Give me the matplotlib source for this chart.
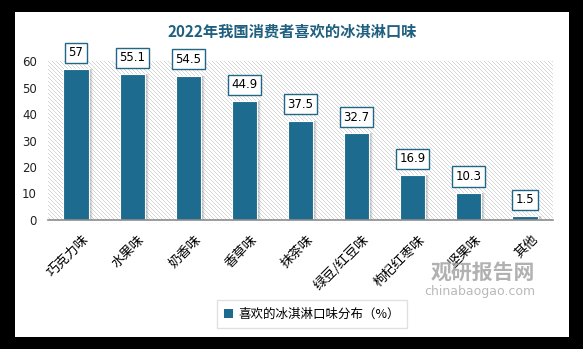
import numpy as np
import matplotlib as ml
ml.use("Agg")
import matplotlib.pyplot as plt
import matplotlib.transforms as mtrans
from matplotlib.patches import Rectangle, Patch
from matplotlib.colors import ListedColormap

# data
flavors = ["巧克力味", "水果味", "奶香味", "香草味", "抹茶味", "绿豆/红豆味", "枸杞红枣味", "坚果味", "其他"]
shares = [57, 55.1, 54.5, 44.9, 37.5, 32.7, 16.9, 10.3, 1.5]
value_labels = ["57", "55.1", "54.5", "44.9", "37.5", "32.7", "16.9", "10.3", "1.5"]
yticks = [0, 10, 20, 30, 40, 50, 60]

title = "2022年我国消费者喜欢的冰淇淋口味"
series_name = "喜欢的冰淇淋口味分布（%）"

bar_color = "#1d6b8f"
cjk = ["Noto Sans CJK SC", "DejaVu Sans"]

fig = plt.figure(figsize=(5.83, 3.49), dpi=100, facecolor="black")

# white card on black border
card = Rectangle((15/583, 12/349), 554/583, 325/349, transform=fig.transFigure,
                 facecolor="white", edgecolor="none", zorder=-5)
fig.patches.append(card)

ax = fig.add_axes([48/583, 129/349, 505/583, 159/349])
ax.set_facecolor("white")

# diagonal stripe texture for the plot background (one texel per pixel)
rows, cols = np.mgrid[0:159, 0:505]
stripes = ((cols - rows) % 4 == 0).astype(float)
ax.imshow(stripes, cmap=ListedColormap(["white", "#d6d6d6"]), extent=[0, 1, 0, 1],
          transform=ax.transAxes, aspect="auto", interpolation="nearest", zorder=0)

x = np.arange(len(flavors))

# soft shadow, then bars
for dx, a in [(4, 0.12), (3, 0.18), (2, 0.25)]:
    sh = mtrans.ScaledTranslation(dx/100, 0, fig.dpi_scale_trans)
    shadow = ax.bar(x, shares, width=0.45, color="#8a8a8a", alpha=a, zorder=2)
    for p in shadow:
        p.set_transform(ax.transData + sh)
ax.bar(x, shares, width=0.45, color=bar_color, edgecolor="white", linewidth=0.8, zorder=3)

for xi, v, lab in zip(x, shares, value_labels):
    ax.annotate(lab, (xi, v), xytext=(0, 7), textcoords="offset points",
                ha="center", va="bottom", fontsize=8.5, color="black", zorder=5,
                bbox=dict(boxstyle="square,pad=0.3", facecolor="white",
                          edgecolor="#1f6788", linewidth=1))

ax.set_xlim(-0.5, len(flavors) - 0.5)
ax.set_ylim(0, 60)
ax.set_yticks(yticks)
ax.tick_params(axis="y", length=0, labelsize=8.5, pad=8, colors="#222222")
ax.tick_params(axis="x", length=0)
ax.set_xticks(x)
ax.set_xticklabels(flavors, rotation=45, ha="right", va="top",
                   rotation_mode="anchor", fontsize=9.5, family=cjk)
off = mtrans.ScaledTranslation(6/100, -8/100, fig.dpi_scale_trans)
for t in ax.get_xticklabels():
    t.set_transform(t.get_transform() + off)

for s in ["top", "right", "left"]:
    ax.spines[s].set_visible(False)
ax.spines["bottom"].set_color("#8c8c8c")
ax.spines["bottom"].set_linewidth(1.2)
ax.spines["bottom"].set_zorder(6)

fig.text(292/583, 1 - 32/349, title, ha="center", va="center", fontsize=11,
         fontweight="bold", color="#1f5f7f", family=cjk)

# watermark
fig.text(483/583, 1 - 272/349, "观研报告网", ha="center", va="center", fontsize=15,
         fontweight="bold", color="#9e9e9e", alpha=0.8, family=cjk, zorder=1)
fig.text(480/583, 1 - 291/349, "chinabaogao.com", ha="center", va="center", fontsize=9,
         color="#a8a8a8", alpha=0.8, zorder=1)

leg = fig.legend(handles=[Patch(facecolor=bar_color, edgecolor="none", label=series_name)],
                 loc="center", bbox_to_anchor=(312/583, 1 - 314/349), fancybox=False,
                 frameon=True, handlelength=0.7, handleheight=0.7, handletextpad=0.4,
                 borderpad=0.6, prop={"family": cjk, "size": 9})
leg.get_frame().set_edgecolor("#d9d9d9")
leg.get_frame().set_linewidth(1)

fig.savefig("out.png", dpi=100, facecolor=fig.get_facecolor())
